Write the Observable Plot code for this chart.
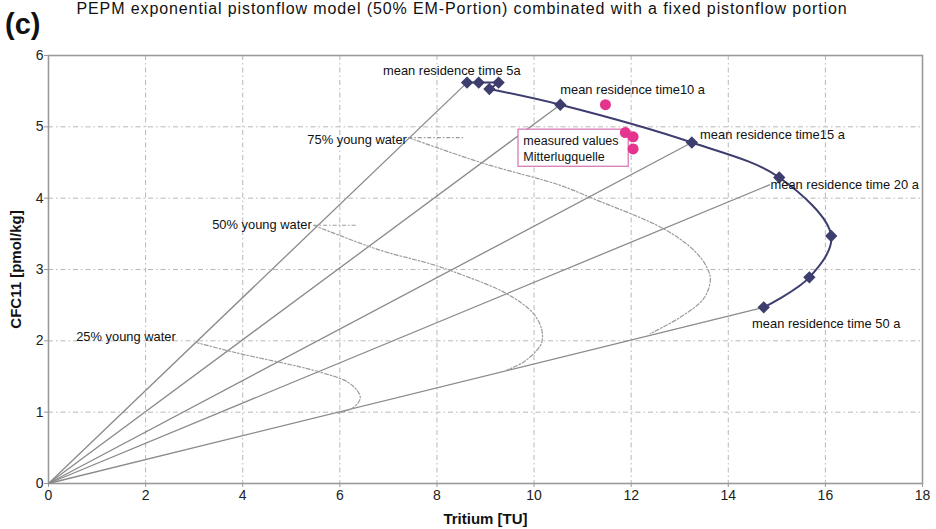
<!DOCTYPE html>
<html><head><meta charset="utf-8">
<script src="https://cdn.jsdelivr.net/npm/d3@7"></script>
<script src="https://cdn.jsdelivr.net/npm/@observablehq/plot@0.6"></script>
<style>
body{margin:0;background:#fff;font-family:"Liberation Sans",Arial,sans-serif;}
#wrap{position:relative;width:936px;height:529px;overflow:hidden;}
#chart{position:absolute;left:0;top:0;}
#title{position:absolute;left:0;width:924px;text-align:center;top:1px;font-size:16px;line-height:16px;letter-spacing:0.9px;color:#111;white-space:nowrap;}
#panel{position:absolute;left:5px;top:8px;font-size:29px;font-weight:bold;color:#111;}
g[aria-label="x-axis label"] text, g[aria-label="y-axis label"] text{font-weight:bold;font-size:15px;fill:#111;}
</style></head><body>
<div id="wrap">
<div id="chart"></div>
<div id="title">PEPM exponential pistonflow model (50% EM-Portion) combinated with a fixed pistonflow portion</div>
<div id="panel">(c)</div>
</div>
<script>
// tick labels
const xTicks = [0, 2, 4, 6, 8, 10, 12, 14, 16, 18];
const yTicks = [0, 1, 2, 3, 4, 5, 6];

// mean residence time curve (tritium TU, CFC11 pmol/kg)
const mrtTritium = [8.62, 8.86, 9.27, 9.08, 10.54, 13.25, 15.05, 16.12, 15.67, 14.73];
const mrtCFC     = [5.62, 5.62, 5.62, 5.53, 5.31, 4.78, 4.29, 3.47, 2.89, 2.47];

// mixing lines from origin to their end points
const mixTritium = [8.62, 10.54, 13.25, 14.86, 14.73];
const mixCFC     = [5.62, 5.31, 4.78, 4.19, 2.47];

// young water lines
const y75Tritium = [7.41, 8.95, 10.54, 11.23, 12.67, 13.29, 13.56, 13.63, 13.49, 13.01, 12.39];
const y75CFC     = [4.85, 4.49, 4.18, 3.99, 3.57, 3.27, 3.03, 2.85, 2.59, 2.33, 2.10];
const y50Tritium = [5.46, 6.83, 7.86, 8.38, 9.44, 9.99, 10.16, 10.16, 10.06, 9.78, 9.44];
const y50CFC     = [3.62, 3.27, 3.08, 2.96, 2.66, 2.38, 2.15, 1.98, 1.87, 1.70, 1.59];
const y25Tritium = [3.02, 3.82, 5.60, 6.21, 6.42, 6.29, 5.94];
const y25CFC     = [1.98, 1.84, 1.56, 1.40, 1.21, 1.07, 0.98];

// leader dashes next to young water labels
const leaderX1 = [7.41, 5.46];
const leaderX2 = [8.54, 6.35];
const leaderY  = [4.85, 3.62];

// measured values Mitterlugquelle
const measTritium = [11.47, 11.88, 12.04, 12.04];
const measCFC     = [5.31, 4.92, 4.86, 4.69];

// annotation texts
const labelText = ["mean residence time 5a", "mean residence time10 a", "mean residence time15 a",
  "mean residence time 20 a", "mean residence time 50 a", "75% young water", "50% young water", "25% young water"];
const labelX = [6.89, 10.54, 13.42, 14.87, 14.49, 5.33, 3.37, 0.57];
const labelY = [5.79, 5.52, 4.89, 4.19, 2.24, 4.82, 3.62, 2.06];

// measured values legend box
const boxX1 = [9.68], boxX2 = [11.95], boxY1 = [4.96], boxY2 = [4.44];
const boxText = ["measured values\nMitterlugquelle"];
const boxTextX = [9.78], boxTextY = [4.70];

const zip = (xs, ys) => xs.map((x, i) => ({x, y: ys[i]}));
const mrt = zip(mrtTritium, mrtCFC);
const mix = zip(mixTritium, mixCFC);
const leaders = leaderY.map((y, i) => ({x1: leaderX1[i], x2: leaderX2[i], y}));
const labels = labelText.map((t, i) => ({t, x: labelX[i], y: labelY[i]}));
const boxes = boxX1.map((v, i) => ({x1: v, x2: boxX2[i], y1: boxY1[i], y2: boxY2[i]}));
const gridDash = "5,3,1.5,3";
const youngDash = "4,2,1.5,2";
const navy = "#3d3d6e";

const chart = Plot.plot({
  width: 936, height: 529,
  marginLeft: 48, marginRight: 14, marginTop: 55, marginBottom: 46,
  style: {fontFamily: '"Liberation Sans", Arial, sans-serif', fontSize: "12px", color: "#111", background: "#fff"},
  x: {domain: [0, 18]},
  y: {domain: [0, 6]},
  marks: [
    Plot.gridX(xTicks.slice(1, -1), {stroke: "#b8b8b8", strokeOpacity: 1, strokeDasharray: gridDash}),
    Plot.gridY(yTicks.slice(1, -1), {stroke: "#b8b8b8", strokeOpacity: 1, strokeDasharray: gridDash}),
    Plot.frame({stroke: "#9a9a9a", strokeWidth: 1.6}),
    Plot.axisX({ticks: xTicks, tickFormat: d3.format("d"), tickSize: 4, tickPadding: 3, fontSize: 14, stroke: "#999", fill: "#222",
      label: "Tritium [TU]", labelAnchor: "center", labelArrow: "none", labelOffset: 40}),
    Plot.axisY({ticks: yTicks, tickFormat: d3.format("d"), tickSize: 4, tickPadding: 1, fontSize: 14, stroke: "#999", fill: "#222",
      label: "CFC11 [pmol/kg]", labelAnchor: "center", labelArrow: "none", labelOffset: 38}),
    Plot.link(mix, {x1: () => 0, y1: () => 0, x2: "x", y2: "y", stroke: "#8a8a8a", strokeWidth: 1.3}),
    Plot.line(zip(y75Tritium, y75CFC), {x: "x", y: "y", curve: "catmull-rom", stroke: "#9a9a9a", strokeWidth: 1.2, strokeDasharray: youngDash}),
    Plot.line(zip(y50Tritium, y50CFC), {x: "x", y: "y", curve: "catmull-rom", stroke: "#9a9a9a", strokeWidth: 1.2, strokeDasharray: youngDash}),
    Plot.line(zip(y25Tritium, y25CFC), {x: "x", y: "y", curve: "catmull-rom", stroke: "#9a9a9a", strokeWidth: 1.2, strokeDasharray: youngDash}),
    Plot.link(leaders, {x1: "x1", x2: "x2", y1: "y", y2: "y", stroke: "#9a9a9a", strokeWidth: 1.2, strokeDasharray: youngDash}),
    Plot.line(mrt.slice(0, 4), {x: "x", y: "y", stroke: navy, strokeWidth: 2}),
    Plot.line(mrt.slice(3), {x: "x", y: "y", curve: "catmull-rom", stroke: navy, strokeWidth: 2}),
    Plot.dot(mrt, {x: "x", y: "y", symbol: "diamond2", r: 4.6, fill: navy, stroke: navy}),
    Plot.rect(boxes, {x1: "x1", x2: "x2", y1: "y1", y2: "y2", fill: "#fff", stroke: "#d77bb8", strokeWidth: 1.3}),
    Plot.text(boxText, {x: boxTextX, y: boxTextY, text: d => d, textAnchor: "start", fontSize: 12.5, lineHeight: 1.25, fill: "#111"}),
    Plot.dot(zip(measTritium, measCFC), {x: "x", y: "y", r: 5.5, fill: "#e6338e"}),
    Plot.text(labels, {x: "x", y: "y", text: "t", textAnchor: "start", fontSize: 12.9, fill: "#111"})
  ]
});
document.getElementById("chart").appendChild(chart);
</script>
</body></html>
